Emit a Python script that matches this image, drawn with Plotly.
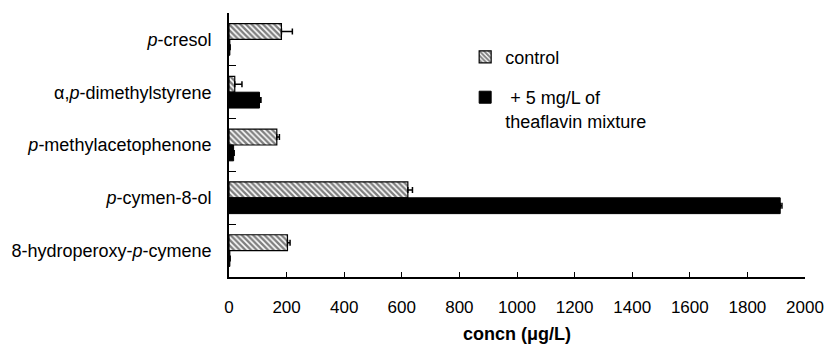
import plotly.graph_objects as go

compounds = ["<i>p</i>-cresol", "α,<i>p</i>-dimethylstyrene", "<i>p</i>-methylacetophenone",
             "<i>p</i>-cymen-8-ol", "8-hydroperoxy-<i>p</i>-cymene"]
control = [182, 20, 166, 621, 203]
control_err = [38, 25, 9, 16, 9]
treated = [3, 106, 16, 1914, 3]
treated_err = [1, 5, 2, 6, 1]
x_ticks = list(range(0, 2001, 200))

fig = go.Figure()
fig.add_trace(go.Bar(
    y=compounds, x=control, orientation="h", name="control", legendgroup="a",
    marker=dict(color="white", line=dict(color="black", width=1.2),
                pattern=dict(shape="\\", size=4, solidity=0.6, fgcolor="black", bgcolor="white")),
    error_x=dict(type="data", array=control_err, arrayminus=[0] * 5, symmetric=False,
                 color="black", thickness=1.5, width=3),
))
fig.add_trace(go.Bar(
    y=compounds, x=treated, orientation="h", name=" + 5 mg/L of<br>theaflavin mixture", legendgroup="b",
    marker=dict(color="black", line=dict(color="black", width=1)),
    error_x=dict(type="data", array=treated_err, arrayminus=[0] * 5, symmetric=False,
                 color="black", thickness=1.5, width=3),
))

fig.update_layout(
    width=827, height=351,
    margin=dict(l=229, r=22, t=13, b=74),
    paper_bgcolor="white", plot_bgcolor="white",
    barmode="group", bargap=0.40, bargroupgap=0,
    font=dict(family="Arial, Liberation Sans, sans-serif", size=18, color="black"),
    showlegend=True,
    legend=dict(x=0.41, y=0.903, xanchor="left", yanchor="top", traceorder="grouped",
                bgcolor="rgba(0,0,0,0)", font=dict(size=18), tracegroupgap=14,
                valign="top", itemwidth=30),
    xaxis=dict(range=[0, 2000], tickvals=x_ticks, ticktext=[str(v) for v in x_ticks],
               showline=True, linecolor="black", linewidth=1.8, mirror=False,
               ticks="inside", ticklen=5, tickcolor="black", tickwidth=1,
               showgrid=False, zeroline=False, automargin=False, ticklabeloverflow="allow",
               tickfont=dict(size=17), ticklabelstandoff=14,
               title=dict(text="<b>concn (μg/L)</b>", font=dict(size=18), standoff=11)),
    yaxis=dict(autorange="reversed", categoryorder="array", categoryarray=compounds,
               showline=True, linecolor="black", linewidth=1.8, automargin=False,
               ticks="inside", tickson="boundaries", ticklen=7, tickcolor="black", tickwidth=1.2,
               showgrid=False, zeroline=False, tickfont=dict(size=18), ticklabelstandoff=12),
)

fig.write_html("out.html")
